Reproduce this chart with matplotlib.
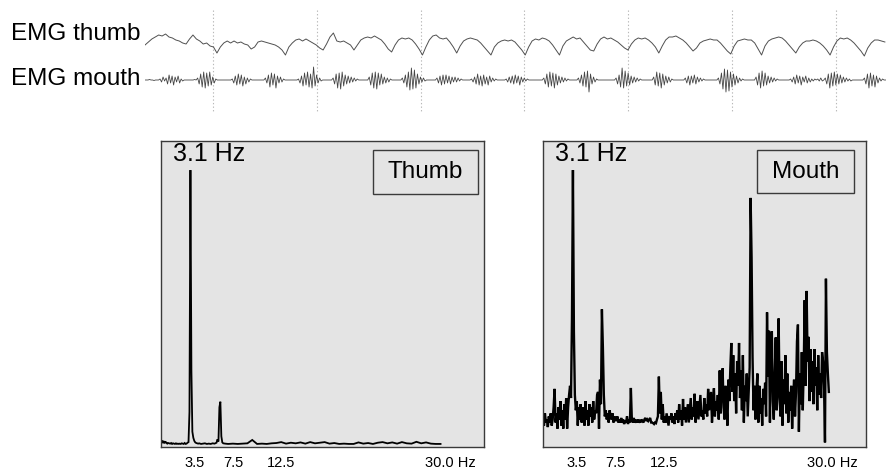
import numpy as np
import matplotlib
matplotlib.use("Agg")
import matplotlib.pyplot as plt
from matplotlib.patches import Rectangle
from matplotlib import font_manager

plt.rcParams['font.family'] = ['Liberation Sans', 'DejaVu Sans']
_names = {f.name for f in font_manager.fontManager.ttflist}
tick_family = ['Liberation Sans Narrow', 'Liberation Sans'] if 'Liberation Sans Narrow' in _names else ['Liberation Sans']
tick_size = 12.7 if 'Liberation Sans Narrow' in _names else 10.5

# ---------------- data ----------------
trace_labels = ["EMG thumb", "EMG mouth"]
trace_t0 = -0.655          # s, start of the traces relative to first marker
thumb_dt = 0.033           # s per sample (thumb trace)
mouth_dt = 0.0145          # s per sample (mouth trace)
marker_times = [0, 1, 2, 3, 4, 5, 6]

thumb_emg = [
    0, 3, 6, 8, 10, 9, 11, 8, 7, 5, 4, 2, 1, 6, 10, 6, 4, 1, 2, -1,
    -2, -8, -2, 2, 4, 2, 4, 2, 3, 1, 0, -4, -2, 3, 4, 3, 2, 1, 0, -2,
    -5, -10, -2, 2, 5, 6, 4, 6, 4, 2, 0, -3, -5, 1, 8, 12, 4, 3, 4, 2,
    0, -5, 0, 5, 7, 8, 7, 9, 7, 5, 1, -4, -7, 0, 5, 7, 6, 7, 5, 1,
    -4, -10, -2, 5, 9, 10, 7, 6, 7, 3, -2, -8, -1, 4, 6, 7, 6, 5, 2, -2,
    -6, -10, -2, 2, 4, 5, 4, 5, 3, -1, -5, -10, -2, 4, 6, 5, 7, 6, 4, 0,
    -5, -10, -1, 4, 6, 8, 6, 7, 3, -1, -5, -6, 1, 6, 8, 6, 7, 5, 3, 0,
    -3, -5, 1, 5, 7, 6, 7, 5, 2, -2, -8, -1, 5, 8, 8, 9, 7, 5, 2, -2,
    -6, -3, 2, 4, 5, 6, 5, 5, 2, -2, -6, -9, -1, 4, 5, 6, 5, 5, 2, -4,
    -10, -1, 4, 6, 7, 8, 7, 4, 0, -4, -8, -2, 2, 4, 4, 5, 4, 2, -1, -5,
    -10, -2, 4, 7, 6, 7, 5, 2, -2, -6, -11, -3, 2, 5, 5, 4, 3,
]

mouth_emg = [
    0, 0, 0, 0.5, 0, 0, -0.5, 0, 0, 0,
    1, -2, 3, -1, 2, -4, 5, -3, 4, -5, 3, -2, 4, -3, 1, -1,
    0, 0, 0, 0, 0, 0, 0, 0.5, 0,
    2, -4, 6, -7, 8, -8, 7, -6, 8, -5, 3, -3, 1,
    0, 0, 0, 0, 0, 0, 0, 0, 0, 0,
    1, -3, 4, -5, 6, -4, 5, -6, 3, -4, 2, -2, 1,
    0, 0, 0, 0, 0, 0, 0, 0, 0,
    2, -3, 5, -7, 7, -5, 6, -8, 4, -3, 3, -2, 1,
    0, 0, 0, 0, 0, 0, 0, 0, 0,
    1, -3, 4, -6, 7, -5, 8, -7, 6, -8, 13, -6, 5, -3, 2, -1,
    0, 0, 0, 0, 0, 0, 0,
    2, -4, 6, -8, 7, -9, 8, -6, 5, -4, 4, -3, 3, -2, 2, -1, 1,
    0, 0, 0, 0, 0, 0, 0,
    3, -5, 7, -8, 8, -9, 7, -5, 6, -4, 3, -3, 2, -2, 1,
    0, 0, 0, 0, 0, 0, 0,
    2, -3, 5, -7, 8, -10, 12, -9, 10, -8, 6, -4, 3, -2, 2, -1,
    0, 0, 0, 0, 0, 0, 0,
    2, -3, 4, -5, 5, -4, 5, -3, 4, -4, 3, -2, 3, -2, 2, -1, 1,
    0, 0, 0, 0, 0, 0,
    1, -2, 3, -4, 6, -5, 4, -6, 5, -4, 3, -5, 4, -2, 2, -1, 1, 0,
    0, 0, 0, 0, 0,
    1, -2, 3, -3, 4, -4, 5, -3, 4, -5, 3, -2, 2, -1, 1, 0,
    0, 0, 0, 0, 0, 0, 0, 0, 0,
    2, -4, 6, -7, 8, -6, 7, -8, 6, -5, 4, -3, 3, -2, 2, -1, 1,
    0, 0, 0, 0, 0, 0,
    2, -3, 5, -6, 8, -7, 9, -12, 6, -4, 3, -2, 1, 0,
    0, 0, 0, 0, 0, 0, 0, 0, 0, 0, 0,
    2, -4, 5, -7, 12, -8, 9, -6, 7, -5, 4, -3, 3, -2, 2, -1, 1,
    0, 0, 0, 0, 0, 0, 0, 0,
    3, -5, 8, -6, 7, -8, 6, -5, 4, -3, 3, -2, 1, 0,
    0, 0, 0, 0, 0, 0, 0,
    2, -3, 4, -5, 4, -3, 5, -4, 3, -2, 2, -1, 1, 0,
    0, 0, 0, 0, 0, 0, 0, 0,
    2, -4, 7, -9, 11, -12, 10, -11, 8, -7, 6, -5, 4, -3, 2, -1, 1,
    0, 0, 0, 0, 0, 0, 0, 0,
    3, -5, 7, -8, 9, -6, 7, -5, 4, -3, 3, -2, 2, -1, 1,
    0, 0, 0, 0, 0, 0, 0, 0,
    1, -2, 3, -4, 5, -3, 4, -5, 3, -2, 4, -3, 2, -2, 1, -1, 1,
    0, 1, -1, 2, -1, 0,
    2, -4, 6, -8, 7, -6, 8, -5, 6, -4, 5, -3, 3, -2, 2, -1, 1, -1, 0,
    0, 0, 0, 0, 0, 0, 0,
    2, -4, 6, -8, 7, -6, 5, -7, 4, -3, 2, -1, 1,
    0, 0, 0,
]

# Thumb spectrum (Hz, relative power)
thumb_freq = [
    0.0, 0.1, 0.2, 0.3, 0.4, 0.5, 0.6, 0.7, 0.8, 0.9,
    1.0, 1.1, 1.2, 1.3, 1.4, 1.5, 1.6, 1.7, 1.8, 1.9,
    2.0, 2.1, 2.2, 2.3, 2.4, 2.5, 2.6, 2.7, 2.8, 2.9,
    3.0, 3.1, 3.2, 3.3, 3.4, 3.5, 3.6, 3.7, 3.8, 3.9,
    4.0, 4.2, 4.4, 4.6, 4.8, 5.0, 5.2, 5.4, 5.6, 5.8,
    5.9, 6.0, 6.1, 6.2, 6.3, 6.4, 6.5, 6.7, 7.0, 7.5,
    8.0, 8.5, 9.0, 9.5, 10.0, 10.5, 11.0, 11.5, 12.0, 12.5,
    13.0, 13.5, 14.0, 14.5, 15.0, 15.5, 16.0, 16.5, 17.0, 17.5,
    18.0, 18.5, 19.0, 19.5, 20.0, 20.5, 21.0, 21.5, 22.0, 22.5,
    23.0, 23.5, 24.0, 24.5, 25.0, 25.5, 26.0, 26.5, 27.0, 27.5,
    28.0, 28.5, 29.0,
]
thumb_power = [
    1.5, 2.2, 1.3, 2.0, 1.2, 1.8, 1.4, 1.1, 1.3, 1.2,
    1.1, 1.3, 1.0, 1.2, 1.1, 1.0, 1.2, 1.0, 1.1, 1.0,
    1.1, 1.0, 1.2, 1.1, 1.0, 1.3, 1.0, 1.1, 1.4, 1.6,
    11.5, 90.5, 25.0, 5.0, 3.0, 2.0, 1.5, 1.3, 1.2, 1.1,
    1.2, 1.0, 1.1, 1.2, 1.0, 1.1, 1.0, 1.2, 1.1, 1.4,
    2.5, 1.8, 13.0, 14.8, 3.5, 1.5, 1.2, 1.1, 1.0, 1.1,
    1.0, 1.1, 1.2, 2.3, 1.0, 1.1, 1.0, 1.2, 1.3, 1.6,
    1.1, 1.4, 1.2, 1.5, 1.1, 1.6, 1.2, 1.4, 1.6, 1.1,
    1.3, 1.0, 1.1, 1.0, 1.0, 1.5, 1.1, 1.3, 1.0, 1.4,
    1.6, 1.2, 1.5, 1.1, 1.6, 1.2, 1.1, 1.7, 1.2, 1.5,
    1.1, 1.0, 1.0,
]

# Mouth spectrum, 0.1 Hz bins starting at 0 Hz
mouth_df = 0.1
mouth_power = [
    10, 7, 11, 8, 9, 6.5, 10, 8, 11, 7,
    9, 13, 19, 8, 11, 6, 13, 9, 15, 7,
    12, 6, 14, 9, 16, 6, 13, 17, 20, 16,
    42, 90.5, 37.7, 17, 12, 15, 7, 13, 9, 14,
    8, 11, 13, 7, 15, 9, 12, 7, 14, 10,
    13, 8, 15, 9, 12, 11, 17, 18, 6, 22,
    14, 45, 32.8, 17, 10, 12, 9, 11, 8, 12,
    10, 9, 11, 8, 10, 9, 8.5, 10, 8, 9,
    8, 9.5, 8, 9, 7.5, 8.5, 8, 10, 7.5, 9,
    8, 19.3, 9, 8, 9.5, 8, 8.5, 8, 9, 8,
    8.5, 8, 9, 8.5, 8, 9, 9.5, 8.5, 9, 8.5,
    9, 9.5, 8, 8, 7.8, 7.5, 8, 7.8, 9, 10,
    23, 11, 18, 9, 14, 8, 10, 8, 11, 9,
    7, 10, 9, 11, 8, 10, 7.5, 11, 9, 12,
    8, 14, 9, 12, 7, 15.7, 9, 13, 8, 11,
    14, 8, 12, 16, 9, 13, 10, 17.4, 8, 12,
    15, 9, 13, 17, 10, 12, 9, 16, 11, 14,
    10, 19, 12, 15, 18, 8, 14, 19.2, 10, 15,
    12, 17, 9, 25, 11, 20, 25.7, 13, 9, 20,
    14, 7, 22, 15, 26, 34, 18, 30, 15, 24,
    11, 28, 20, 34, 16, 25, 12, 30, 8, 20,
    15, 24, 10, 18, 26, 81.4, 62, 29.4, 12, 20,
    9, 18, 24, 8, 20, 11, 16, 7, 19, 14,
    21, 10, 44, 23, 38, 8, 33, 37.8, 15, 9,
    24, 35.8, 12, 20, 42, 16, 10, 28, 7, 22,
    14, 30, 11, 24, 8, 18, 12, 20, 6, 16,
    22, 10, 18, 34.5, 40, 5, 24, 14, 31, 12,
    26, 48, 20, 51, 28, 36, 15, 32, 18, 28,
    14, 32, 20, 26, 12, 30, 17, 24, 16, 31,
    28, 20, 1.5, 55, 31, 24, 18,
]

peak_label = "3.1 Hz"
panel_names = ["Thumb", "Mouth"]
tick_values = [3.5, 7.5, 12.5, 30.0]
tick_labels = ["3.5", "7.5", "12.5", "30.0 Hz"]

# ---------------- figure ----------------
W, H = 887, 475
fig = plt.figure(figsize=(W / 100, H / 100), dpi=100)

# traces
ax_t = fig.add_axes([145 / W, 1 - 112 / H, 742 / W, 112 / H])
ax_t.set_axis_off()
thumb_t = trace_t0 + np.arange(len(thumb_emg)) * thumb_dt
mouth_t = trace_t0 + np.arange(len(mouth_emg)) * mouth_dt
mouth_offset = -35
for mt in marker_times:
    ax_t.plot([mt, mt], [35, -67], color="#b8b8b8", lw=0.8,
              linestyle=(0, (1.2, 2.0)), zorder=1)
ax_t.plot(thumb_t, thumb_emg, color="#505050", lw=0.7, zorder=2)
ax_t.plot(mouth_t, np.array(mouth_emg) + mouth_offset, color="#454545",
          lw=0.6, zorder=2)
ax_t.set_xlim(trace_t0, trace_t0 + 742 / 103.8)
ax_t.set_ylim(-67, 45)

fig.text(11 / W, 1 - 34 / H, trace_labels[0], fontsize=17.5,
         ha="left", va="center")
fig.text(11 / W, 1 - 79 / H, trace_labels[1], fontsize=17.5,
         ha="left", va="center")

# spectra
mouth_freq = np.arange(len(mouth_power)) * mouth_df
panels = [
    (160.5, thumb_freq, thumb_power, panel_names[0],
     (373, 478, 150, 194), 1.3),
    (543.0, mouth_freq, mouth_power, panel_names[1],
     (757, 854, 150, 193), 1.7),
]
bg = "#e4e4e4"
for left, fx, py, name, (bx0, bx1, by0, by1), lw in panels:
    ax = fig.add_axes([left / W, 1 - 447 / H, 323.5 / W, 306 / H])
    ax.set_facecolor(bg)
    ax.plot(fx, py, color="black", lw=lw, solid_joinstyle="miter")
    ax.set_xlim(0, 33.5)
    ax.set_ylim(0, 100)
    for s in ax.spines.values():
        s.set_color("#3a3a3a")
        s.set_linewidth(1.0)
    ax.set_yticks([])
    ax.set_xticks(tick_values)
    ax.set_xticklabels(tick_labels, fontsize=tick_size, family=tick_family)
    ax.tick_params(axis="x", length=0, pad=6.5)
    ax.text(0.038, 0.957, peak_label, transform=ax.transAxes,
            fontsize=18, ha="left", va="center")
    # box with panel name
    x0 = (bx0 - left) / 323.5
    x1 = (bx1 - left) / 323.5
    y0 = (447 - by1) / 306
    y1 = (447 - by0) / 306
    ax.add_patch(Rectangle((x0, y0), x1 - x0, y1 - y0, transform=ax.transAxes,
                           facecolor=bg, edgecolor="#3a3a3a", lw=1.0))
    ax.text((x0 + x1) / 2, (y0 + y1) / 2, name, transform=ax.transAxes,
            fontsize=17.5, ha="center", va="center")

fig.savefig("out.png", dpi=100)
